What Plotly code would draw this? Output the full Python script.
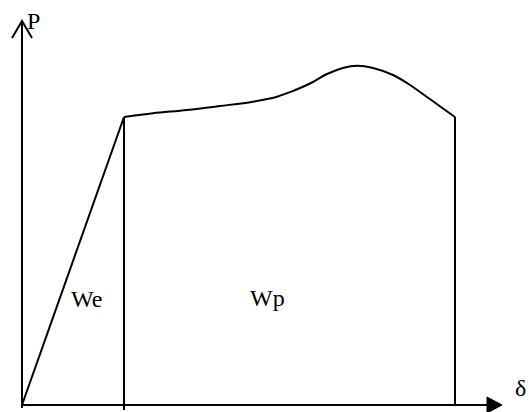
import plotly.graph_objects as go

# Schematic load (P) vs displacement (delta) curve, arbitrary units
elastic_delta = [0, 102]
elastic_load = [0, 288]

plastic_delta = [102, 131, 165, 198, 231, 255, 271, 288, 305, 321, 335, 351, 371, 388, 405, 421, 433]
plastic_load = [288, 291.7, 295, 299, 303.3, 308.3, 314, 321.5, 331, 337, 339.3, 337, 330, 320, 308, 296.5, 288]

region_labels = ["We", "Wp"]
region_label_delta = [64, 245]
region_label_load = [106, 107]

x_axis_end = 480
y_axis_end = 384
axis_label_x = "δ"
axis_label_y = "P"

FONT = "Liberation Serif, Times New Roman, serif"
LW = 2

fig = go.Figure()

# elastic line
fig.add_trace(go.Scatter(x=elastic_delta, y=elastic_load, mode="lines",
                         line=dict(color="black", width=LW), hoverinfo="skip"))
# plastic curve
fig.add_trace(go.Scatter(x=plastic_delta, y=plastic_load, mode="lines",
                         line=dict(color="black", width=LW, shape="spline", smoothing=1.0),
                         hoverinfo="skip"))
# vertical dividers
for xd, yl, ybottom in [(elastic_delta[-1], elastic_load[-1], -5), (plastic_delta[-1], plastic_load[-1], 0)]:
    fig.add_trace(go.Scatter(x=[xd, xd], y=[ybottom, yl], mode="lines",
                             line=dict(color="black", width=LW), hoverinfo="skip"))

# axes
fig.add_shape(type="line", x0=0, y0=0, x1=x_axis_end - 12, y1=0, line=dict(color="black", width=LW))
fig.add_shape(type="line", x0=0, y0=-3, x1=0, y1=y_axis_end, line=dict(color="black", width=LW))
# x arrow: filled triangle
fig.add_shape(type="path",
              path=f"M {x_axis_end-15},-8 L {x_axis_end},0 L {x_axis_end-15},8 Z",
              fillcolor="black", line=dict(color="black", width=1))
# y arrow: open chevron
fig.add_shape(type="path",
              path=f"M -10,{y_axis_end-17} L 0,{y_axis_end} L 10,{y_axis_end-17}",
              line=dict(color="black", width=LW))

# labels
fig.add_annotation(x=11, y=y_axis_end, text=axis_label_y, showarrow=False,
                   font=dict(family=FONT, size=24, color="black"))
fig.add_annotation(x=x_axis_end + 18, y=17, text=axis_label_x, showarrow=False,
                   font=dict(family=FONT, size=24, color="black"))
for t, xd, yl in zip(region_labels, region_label_delta, region_label_load):
    fig.add_annotation(x=xd, y=yl, text=t, showarrow=False,
                       font=dict(family=FONT, size=24, color="black"))

fig.update_layout(
    width=529, height=412,
    margin=dict(l=0, r=0, t=0, b=0),
    paper_bgcolor="white", plot_bgcolor="white",
    showlegend=False,
    xaxis=dict(range=[-22, 507], visible=False, fixedrange=True),
    yaxis=dict(range=[-7, 405], visible=False, fixedrange=True),
)

fig.write_html("out.html", config={"displayModeBar": False},
               post_script="document.body.style.margin='0';document.body.style.overflow='hidden';")
